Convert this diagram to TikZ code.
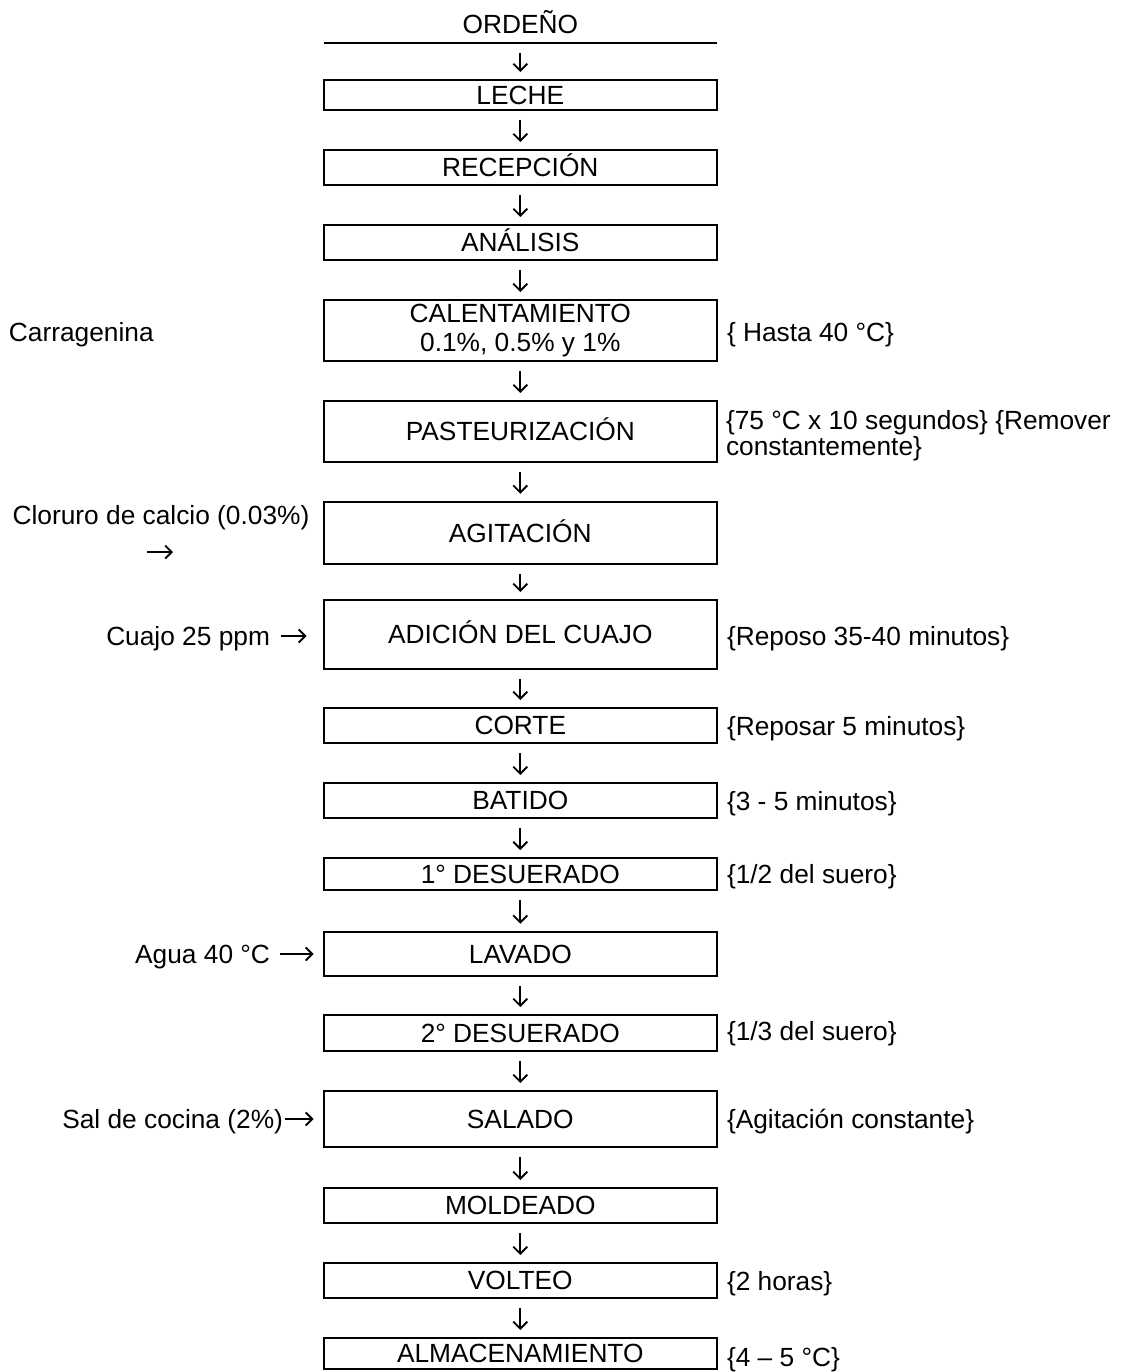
\documentclass[tikz,border=0pt]{standalone}
\usepackage{fontspec}
\setmainfont{Liberation Sans}
\usetikzlibrary{arrows.meta}
\begin{document}
\begin{tikzpicture}[x=1pt,y=-1pt,
  every node/.style={font=\fontsize{26.3}{29}\selectfont, inner sep=0pt, outer sep=0pt},
  boxbase/.style={draw, line width=1.9pt, minimum width=393.5pt, anchor=center},
  box/.style={boxbase, text height=18.8pt, text depth=0pt},
  flow/.style={line width=1.9pt, -{Straight Barb[length=7pt,width=14pt,line width=1.9pt]}, shorten <=10pt, shorten >=8pt},
  side/.style={line width=1.9pt, -{Straight Barb[length=6.5pt,width=13pt,line width=1.9pt]}},
  lab/.style={anchor=base west},
  llab/.style={anchor=east, text height=18.8pt, text depth=0pt}
]
\useasboundingbox (0,0) rectangle (1123,1372);

% title with underline
\node[minimum width=393.5pt, minimum height=38pt, text height=18.8pt, text depth=0pt] (ordeno) at (520.3,24) {ORDEÑO};
\draw[line width=1.9pt] (ordeno.south west) -- (ordeno.south east);

% process boxes
\node[box, minimum height=29.7pt] (leche) at (520.3,94.9) {LECHE};
\node[box, minimum height=34.7pt] (recep) at (520.3,167.4) {RECEPCIÓN};
\node[box, minimum height=34.7pt] (anal) at (520.3,242.4) {ANÁLISIS};
\node[boxbase, minimum height=61pt, align=center] (calen) at (520.3,330.5) {CALENTAMIENTO\\0.1\%, 0.5\% y 1\%};
\node[box, minimum height=60.7pt] (paste) at (520.3,431.4) {PASTEURIZACIÓN};
\node[box, minimum height=62.3pt] (agita) at (520.3,532.9) {AGITACIÓN};
\node[box, minimum height=69pt] (adic) at (520.3,634.5) {ADICIÓN DEL CUAJO};
\node[box, minimum height=35pt] (corte) at (520.3,725.5) {CORTE};
\node[box, minimum height=35pt] (batido) at (520.3,800.5) {BATIDO};
\node[box, minimum height=31.7pt] (desa) at (520.3,873.9) {1° DESUERADO};
\node[box, minimum height=44.3pt] (lavado) at (520.3,953.9) {LAVADO};
\node[box, minimum height=36pt] (desb) at (520.3,1033) {2° DESUERADO};
\node[box, minimum height=56pt] (salado) at (520.3,1119) {SALADO};
\node[box, minimum height=35pt] (molde) at (520.3,1205.5) {MOLDEADO};
\node[box, minimum height=35pt] (volteo) at (520.3,1280.5) {VOLTEO};
\node[box, minimum height=31pt] (almac) at (520.3,1353.5) {ALMACENAMIENTO};

% connectors
\draw[flow] (ordeno.south) -- (leche.north);
\draw[flow] (leche) -- (recep);
\draw[flow] (recep) -- (anal);
\draw[flow] (anal) -- (calen);
\draw[flow] (calen) -- (paste);
\draw[flow] (paste) -- (agita);
\draw[flow] (agita) -- (adic);
\draw[flow] (adic) -- (corte);
\draw[flow] (corte) -- (batido);
\draw[flow] (batido) -- (desa);
\draw[flow] (desa) -- (lavado);
\draw[flow] (lavado) -- (desb);
\draw[flow] (desb) -- (salado);
\draw[flow] (salado) -- (molde);
\draw[flow] (molde) -- (volteo);
\draw[flow] (volteo) -- (almac);

% left-hand inputs
\node[lab] (carr) at (9,341) {Carragenina};
\node[anchor=base] (clor) at (161,524) {Cloruro de calcio (0.03\%)};
\coordinate (clorA) at (147,552);
\coordinate (clorB) at (173,552);
\draw[side] (clorA) -- (clorB);
\node[llab] (cuajo) at (270,636) {Cuajo 25 ppm};
\draw[side, shorten <=11pt, shorten >=17pt] (cuajo.east) -- (cuajo.east -| adic.west);
\node[llab] (agua) at (270,954) {Agua 40 °C};
\draw[side, shorten <=10pt, shorten >=10pt] (agua.east) -- (agua.east -| lavado.west);
\node[llab] (sal) at (283,1119) {Sal de cocina (2\%)};
\draw[side, shorten <=2pt, shorten >=10pt] (sal.east) -- (sal.east -| salado.west);

% right-hand conditions
\node[lab] (hasta) at (727,341) {\{ Hasta 40 °C\}};
\node[lab] (pasta) at (726,429) {\{75 °C x 10 segundos\} \{Remover};
\node[lab] (pastb) at (726,455) {constantemente\}};
\node[lab] (repo) at (727,645) {\{Reposo 35-40 minutos\}};
\node[lab] (repos) at (727,735) {\{Reposar 5 minutos\}};
\node[lab] (tres) at (727,810) {\{3 - 5 minutos\}};
\node[lab] (medio) at (727,883) {\{1/2 del suero\}};
\node[lab] (tercio) at (727,1040) {\{1/3 del suero\}};
\node[lab] (agit) at (727,1128) {\{Agitación constante\}};
\node[lab] (horas) at (727,1290) {\{2 horas\}};
\node[lab] (temp) at (727,1366) {\{4 – 5 °C\}};
\end{tikzpicture}
\end{document}
